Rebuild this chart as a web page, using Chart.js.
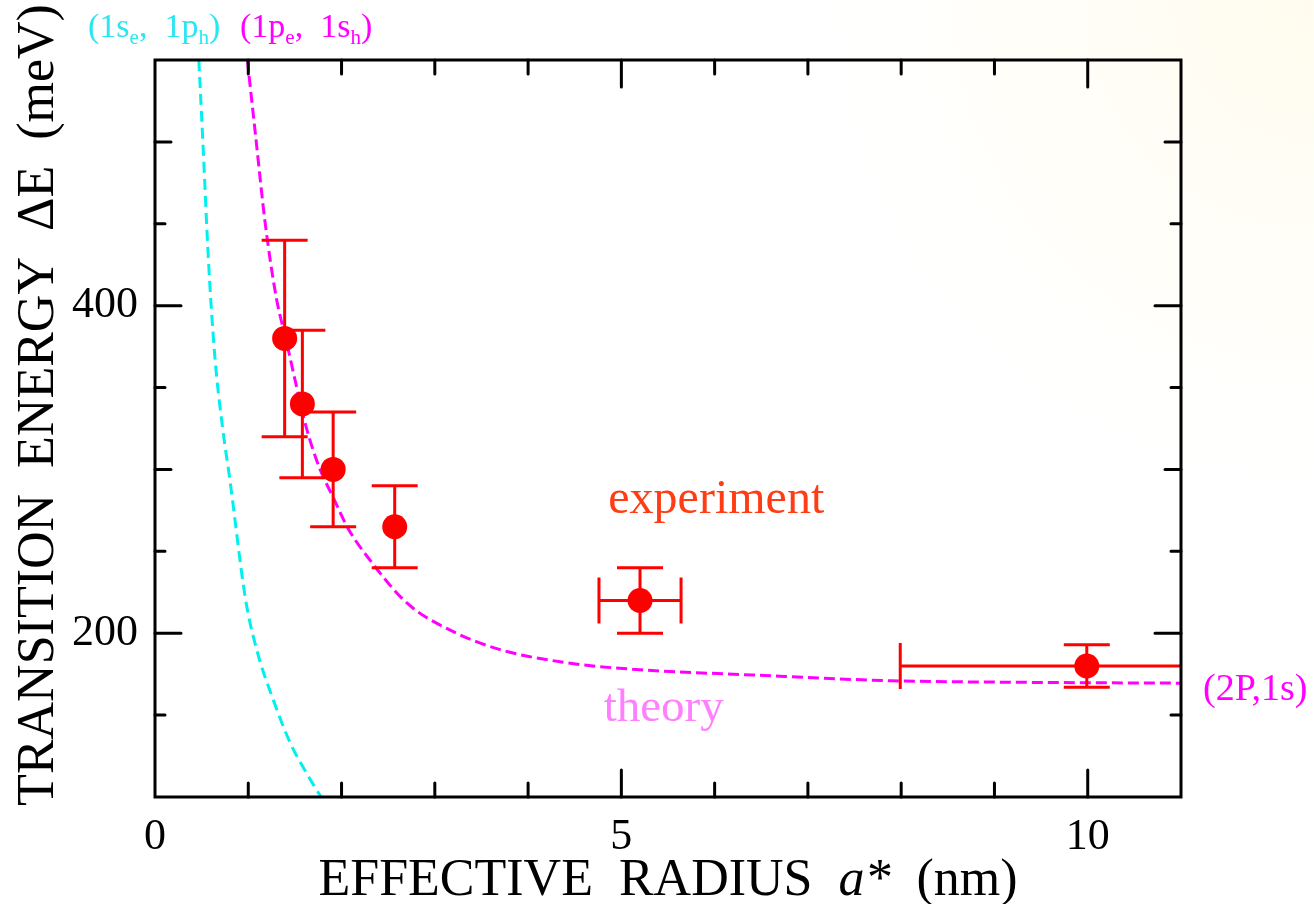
<!DOCTYPE html>
<html>
<head>
<meta charset="utf-8">
<title>Transition energy vs effective radius</title>
<script src="https://cdn.jsdelivr.net/npm/chart.js@4.4.1/dist/chart.umd.min.js"></script>
<style>
  html, body { margin: 0; padding: 0; background: #ffffff; }
  canvas { display: block; }
</style>
</head>
<body>
<canvas id="chart" width="1314" height="904"></canvas>
<script>
// ---- data -------------------------------------------------------------
// labelled tick values
const radiusTickLabels = [0, 5, 10];
const energyTickLabels = [200, 400];

// measured transition energies (meV) vs effective radius a* (nm)
const expRadius    = [1.39, 1.58, 1.91, 2.57, 5.20, 9.99];
const expEnergy    = [380, 340, 300, 265, 220, 180];
const expEnergyErr = [60, 45, 35, 25, 20, 13];
const expRadiusErr = [0, 0, 0, 0, 0.44, 2.0];

// (1pe, 1sh) -> (2P,1s) theory curve
const theoryRadius = [0.99, 1.08, 1.18, 1.30, 1.41, 1.52, 1.63, 1.77, 1.91, 2.07, 2.30, 2.71, 3.16, 3.70, 4.41, 5.12, 6.40, 7.89, 9.37, 11.0];
const theoryEnergy = [550, 503, 451, 405, 378, 350, 324, 300, 283, 264, 245, 218, 202, 190, 182, 178, 174.5, 171, 170, 169.5];

// (1se, 1ph) theory curve
const cyanRadius = [0.47, 0.52, 0.57, 0.64, 0.73, 0.80, 0.97, 1.09, 1.27, 1.45, 1.63, 1.78];
const cyanEnergy = [550, 492, 431, 370, 323, 295, 221, 190, 159, 133, 114, 100];

// ---- styling ------------------------------------------------------------
const SERIF = '"Liberation Serif", "Times New Roman", Times, serif';
const RED = '#ff0000';
const MAGENTA = '#ff00ff';
const CYAN = '#00f0f0';

const toXY = (xs, ys) => xs.map((v, i) => ({ x: v, y: ys[i] }));

// draws a run of text pieces, some of them subscripts or italic
function drawRich(ctx, parts, x, y, size, color) {
  let cx = x;
  ctx.fillStyle = color;
  ctx.textBaseline = 'alphabetic';
  ctx.textAlign = 'left';
  for (const p of parts) {
    const fs = p.sub ? size * 0.62 : size;
    ctx.font = (p.italic ? 'italic ' : '') + fs + 'px ' + SERIF;
    ctx.fillText(p.t, cx, y + (p.sub ? size * 0.2 : 0));
    cx += ctx.measureText(p.t).width;
  }
  return cx - x;
}
function richWidth(ctx, parts, size) {
  let w = 0;
  for (const p of parts) {
    const fs = p.sub ? size * 0.62 : size;
    ctx.font = (p.italic ? 'italic ' : '') + fs + 'px ' + SERIF;
    w += ctx.measureText(p.t).width;
  }
  return w;
}

// faint warm backdrop in the upper right corner
const backdrop = {
  id: 'backdrop',
  beforeDraw(chart) {
    const { ctx, width, height } = chart;
    ctx.save();
    ctx.fillStyle = '#ffffff';
    ctx.fillRect(0, 0, width, height);
    const g = ctx.createRadialGradient(width, 0, 0, width, 0, 480);
    g.addColorStop(0, 'rgba(255, 248, 205, 0.32)');
    g.addColorStop(1, 'rgba(255, 248, 205, 0)');
    ctx.fillStyle = g;
    ctx.fillRect(0, 0, width, height);
    ctx.restore();
  }
};

// error bars under the measured points
const errorBars = {
  id: 'errorBars',
  beforeDatasetDraw(chart, args) {
    if (args.index !== 2) return;
    const { ctx, chartArea: a, scales: { x, y } } = chart;
    ctx.save();
    ctx.beginPath();
    ctx.rect(a.left, a.top, a.width, a.height);
    ctx.clip();
    ctx.strokeStyle = RED;
    ctx.lineWidth = 3;
    const cap = 23;
    expRadius.forEach((r, i) => {
      const px = x.getPixelForValue(r);
      const py = y.getPixelForValue(expEnergy[i]);
      const top = y.getPixelForValue(expEnergy[i] + expEnergyErr[i]);
      const bot = y.getPixelForValue(expEnergy[i] - expEnergyErr[i]);
      ctx.beginPath();
      ctx.moveTo(px, top); ctx.lineTo(px, bot);
      ctx.moveTo(px - cap, top); ctx.lineTo(px + cap, top);
      ctx.moveTo(px - cap, bot); ctx.lineTo(px + cap, bot);
      if (expRadiusErr[i] > 0) {
        const l = x.getPixelForValue(r - expRadiusErr[i]);
        const rr = x.getPixelForValue(r + expRadiusErr[i]);
        ctx.moveTo(l, py); ctx.lineTo(rr, py);
        ctx.moveTo(l, py - cap); ctx.lineTo(l, py + cap);
        ctx.moveTo(rr, py - cap); ctx.lineTo(rr, py + cap);
      }
      ctx.stroke();
    });
    ctx.restore();
  }
};

// box frame, inward ticks on all four sides, titles and annotations
const frame = {
  id: 'frame',
  afterDraw(chart) {
    const { ctx, chartArea: a, scales: { x, y } } = chart;
    ctx.save();
    ctx.strokeStyle = '#000';
    ctx.lineWidth = 3;
    ctx.lineCap = 'square';
    ctx.strokeRect(a.left, a.top, a.right - a.left, a.bottom - a.top);
    ctx.lineCap = 'round';
    ctx.beginPath();
    for (let v = 1; v < 11; v++) {
      const len = v % 5 === 0 ? 27 : 14;
      const px = x.getPixelForValue(v);
      ctx.moveTo(px, a.bottom); ctx.lineTo(px, a.bottom - len);
      ctx.moveTo(px, a.top); ctx.lineTo(px, a.top + len);
    }
    for (let v = 150; v < 550; v += 50) {
      const len = energyTickLabels.includes(v) ? 26 : (v % 100 === 0 ? 16 : 10);
      const py = y.getPixelForValue(v);
      ctx.moveTo(a.left, py); ctx.lineTo(a.left + len, py);
      ctx.moveTo(a.right, py); ctx.lineTo(a.right - len, py);
    }
    ctx.stroke();

    // x axis title, centred under the plot
    const xt = [
      { t: 'EFFECTIVE  RADIUS  ' },
      { t: 'a*', italic: true },
      { t: '  (nm)' }
    ];
    const xw = richWidth(ctx, xt, 52);
    drawRich(ctx, xt, (a.left + a.right) / 2 - xw / 2, 895, 52, '#000');

    // y axis title, rotated
    ctx.save();
    ctx.translate(53, 405);
    ctx.rotate(-Math.PI / 2);
    ctx.font = '52px ' + SERIF;
    ctx.fillStyle = '#000';
    ctx.textAlign = 'center';
    ctx.textBaseline = 'alphabetic';
    ctx.fillText('TRANSITION  ENERGY  \u0394E  (meV)', 0, 0);
    ctx.restore();

    // state labels above the plot
    drawRich(ctx, [
      { t: '(1s' }, { t: 'e', sub: true }, { t: ',  1p' }, { t: 'h', sub: true }, { t: ')' }
    ], 88, 37, 34, '#2ae6f2');
    drawRich(ctx, [
      { t: '(1p' }, { t: 'e', sub: true }, { t: ',  1s' }, { t: 'h', sub: true }, { t: ')' }
    ], 240, 37, 34, MAGENTA);

    // asymptote label right of the plot
    drawRich(ctx, [{ t: '(2P,1s)' }], a.right + 22, 700, 38, MAGENTA);

    // series annotations
    ctx.textBaseline = 'middle';
    ctx.textAlign = 'left';
    ctx.font = '48px ' + SERIF;
    ctx.fillStyle = '#ff3c14';
    ctx.fillText('experiment', x.getPixelForValue(4.86), y.getPixelForValue(281));
    ctx.font = '47px ' + SERIF;
    ctx.fillStyle = '#ff80ff';
    ctx.fillText('theory', x.getPixelForValue(4.81), y.getPixelForValue(154));
    ctx.restore();
  }
};

new Chart(document.getElementById('chart'), {
  type: 'scatter',
  data: {
    datasets: [
      {
        label: '(1se, 1ph)',
        data: toXY(cyanRadius, cyanEnergy),
        showLine: true,
        borderColor: CYAN,
        borderWidth: 3,
        borderDash: [11, 6],
        pointRadius: 0,
        cubicInterpolationMode: 'monotone',
        order: 3
      },
      {
        label: 'theory',
        data: toXY(theoryRadius, theoryEnergy),
        showLine: true,
        borderColor: MAGENTA,
        borderWidth: 3,
        borderDash: [11, 5],
        pointRadius: 0,
        cubicInterpolationMode: 'monotone',
        order: 2
      },
      {
        label: 'experiment',
        data: toXY(expRadius, expEnergy),
        showLine: false,
        pointRadius: 12.5,
        pointHoverRadius: 12.5,
        pointBackgroundColor: RED,
        pointBorderWidth: 0,
        borderColor: RED,
        order: 1
      }
    ]
  },
  options: {
    responsive: false,
    devicePixelRatio: 1,
    animation: false,
    layout: { padding: { top: 60, right: 133, left: 0, bottom: 0 } },
    plugins: {
      legend: { display: false },
      tooltip: { enabled: false }
    },
    scales: {
      x: {
        type: 'linear',
        min: 0,
        max: 11,
        afterFit(scale) { scale.height = 107; },
        grid: { display: false, drawTicks: false },
        border: { display: false },
        ticks: {
          stepSize: 1,
          autoSkip: false,
          maxRotation: 0,
          padding: 14,
          color: '#000',
          font: { family: SERIF, size: 44 },
          callback: v => radiusTickLabels.includes(v) ? String(v) : ''
        }
      },
      y: {
        type: 'linear',
        min: 100,
        max: 550,
        afterFit(scale) { scale.width = 155; },
        grid: { display: false, drawTicks: false },
        border: { display: false },
        ticks: {
          stepSize: 50,
          autoSkip: false,
          padding: 17,
          color: '#000',
          font: { family: SERIF, size: 44 },
          callback: v => energyTickLabels.includes(v) ? String(v) : ''
        }
      }
    }
  },
  plugins: [backdrop, errorBars, frame]
});
</script>
</body>
</html>
